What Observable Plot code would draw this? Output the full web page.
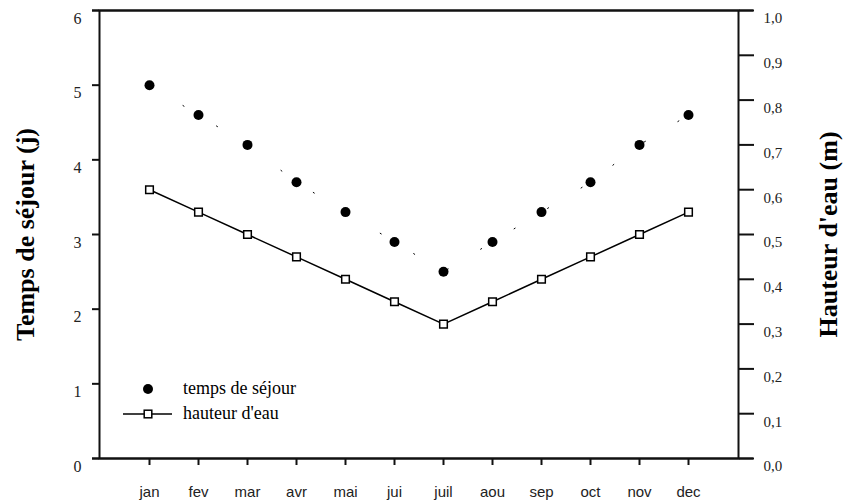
<!DOCTYPE html>
<html>
<head>
<meta charset="utf-8">
<script src="https://cdn.jsdelivr.net/npm/d3@7"></script>
<script src="https://cdn.jsdelivr.net/npm/@observablehq/plot@0.6"></script>
<style>
  html, body { margin: 0; padding: 0; background: white; }
  #chart { width: 843px; height: 503px; }
</style>
</head>
<body>
<div id="chart"></div>
<script>
const months = ["jan","fev","mar","avr","mai","jui","juil","aou","sep","oct","nov","dec"];
const tempsSejour = [5.0, 4.6, 4.2, 3.7, 3.3, 2.9, 2.5, 2.9, 3.3, 3.7, 4.2, 4.6];
const hauteurEau = [0.60, 0.55, 0.50, 0.45, 0.40, 0.35, 0.30, 0.35, 0.40, 0.45, 0.50, 0.55];
const leftTicks = [0, 1, 2, 3, 4, 5, 6];
const rightTicks = [0, 0.1, 0.2, 0.3, 0.4, 0.5, 0.6, 0.7, 0.8, 0.9, 1.0];
const leftTitle = "Temps de séjour (j)";
const rightTitle = "Hauteur d'eau (m)";
const legendLabels = ["temps de séjour", "hauteur d'eau"];

const yMax = 6;       // left axis max
const rightMax = 1.0; // right axis max
const k = yMax / rightMax;

const data = months.map((m, i) => ({month: m, t: tempsSejour[i], h: hauteurEau[i]}));
const ink = "#111";

const chart = Plot.plot({
  width: 843,
  height: 503,
  marginLeft: 99,
  marginRight: 105,
  marginTop: 10,
  marginBottom: 45,
  style: {fontFamily: "Liberation Serif", background: "white", color: "#000"},
  x: {type: "point", domain: months, padding: 1},
  y: {domain: [0, yMax]},
  marks: [
    Plot.frame({stroke: ink, strokeWidth: 2}),
    Plot.ruleY([0, yMax], {insetLeft: -7, insetRight: -15, stroke: ink, strokeWidth: 2}),
    // left axis
    Plot.axisY({anchor: "left", ticks: leftTicks, tickSize: 7, fill: "none", stroke: ink, strokeWidth: 2, label: null}),
    Plot.axisY({anchor: "left", ticks: leftTicks, tickSize: 0, tickPadding: 18, dy: 8,
      tickFormat: d => String(d), fontSize: 16, fontFamily: "Liberation Serif", fill: "#222", label: null}),
    // right axis
    Plot.axisY({anchor: "right", ticks: rightTicks.map(v => v * k), tickSize: 15, fill: "none", stroke: ink, strokeWidth: 2, label: null}),
    Plot.axisY({anchor: "right", ticks: rightTicks.map(v => v * k), tickSize: 0, tickPadding: 25, dy: 8,
      tickFormat: v => d3.format(".1f")(v / k).replace(".", ","), fontSize: 15, fontFamily: "Liberation Serif", fill: "#222", label: null}),
    // x axis
    Plot.axisX({tickSize: 7, fill: "none", stroke: ink, strokeWidth: 2, label: null}),
    Plot.axisX({tickSize: 0, tickPadding: 28, fontSize: 15, fontFamily: "Liberation Sans", fill: "#222", label: null}),
    // axis titles
    Plot.text([leftTitle], {text: d => d, frameAnchor: "left", textAnchor: "middle", dx: -74, rotate: -90,
      fontSize: 26, fontWeight: "bold", fontFamily: "Liberation Serif", fill: "#000"}),
    Plot.text([rightTitle], {text: d => d, frameAnchor: "right", textAnchor: "middle", dx: 90, rotate: -90,
      fontSize: 26, fontWeight: "bold", fontFamily: "Liberation Serif", fill: "#000"}),
    // temps de séjour (faint dotted connection + filled dots)
    Plot.line(data, {x: "month", y: "t", stroke: "#000", strokeWidth: 1, strokeDasharray: "1.2,38"}),
    Plot.dot(data, {x: "month", y: "t", r: 5, fill: "#000", stroke: "none"}),
    // hauteur d'eau (line + open squares)
    Plot.line(data, {x: "month", y: d => d.h * k, stroke: "#000", strokeWidth: 1.5}),
    Plot.dot(data, {x: "month", y: d => d.h * k, symbol: "square", r: 4.3, fill: "white", stroke: "#000", strokeWidth: 1.5})
  ]
});

// Legend drawn inside the plot area
const svg = d3.select(chart);
const lg = svg.append("g").attr("font-family", "Liberation Serif").attr("font-size", 18)
  .attr("fill", "#000").attr("text-anchor", "start");
lg.append("circle").attr("cx", 148).attr("cy", 389).attr("r", 5).attr("fill", "#000");
lg.append("text").attr("x", 183).attr("y", 394).text(legendLabels[0]);
lg.append("line").attr("x1", 123).attr("x2", 172).attr("y1", 414).attr("y2", 414)
  .attr("stroke", "#000").attr("stroke-width", 1.5);
lg.append("rect").attr("x", 148 - 3.8).attr("y", 414 - 3.8).attr("width", 7.6).attr("height", 7.6)
  .attr("fill", "white").attr("stroke", "#000").attr("stroke-width", 1.5);
lg.append("text").attr("x", 183).attr("y", 419).text(legendLabels[1]);

document.getElementById("chart").appendChild(chart);
</script>
</body>
</html>
